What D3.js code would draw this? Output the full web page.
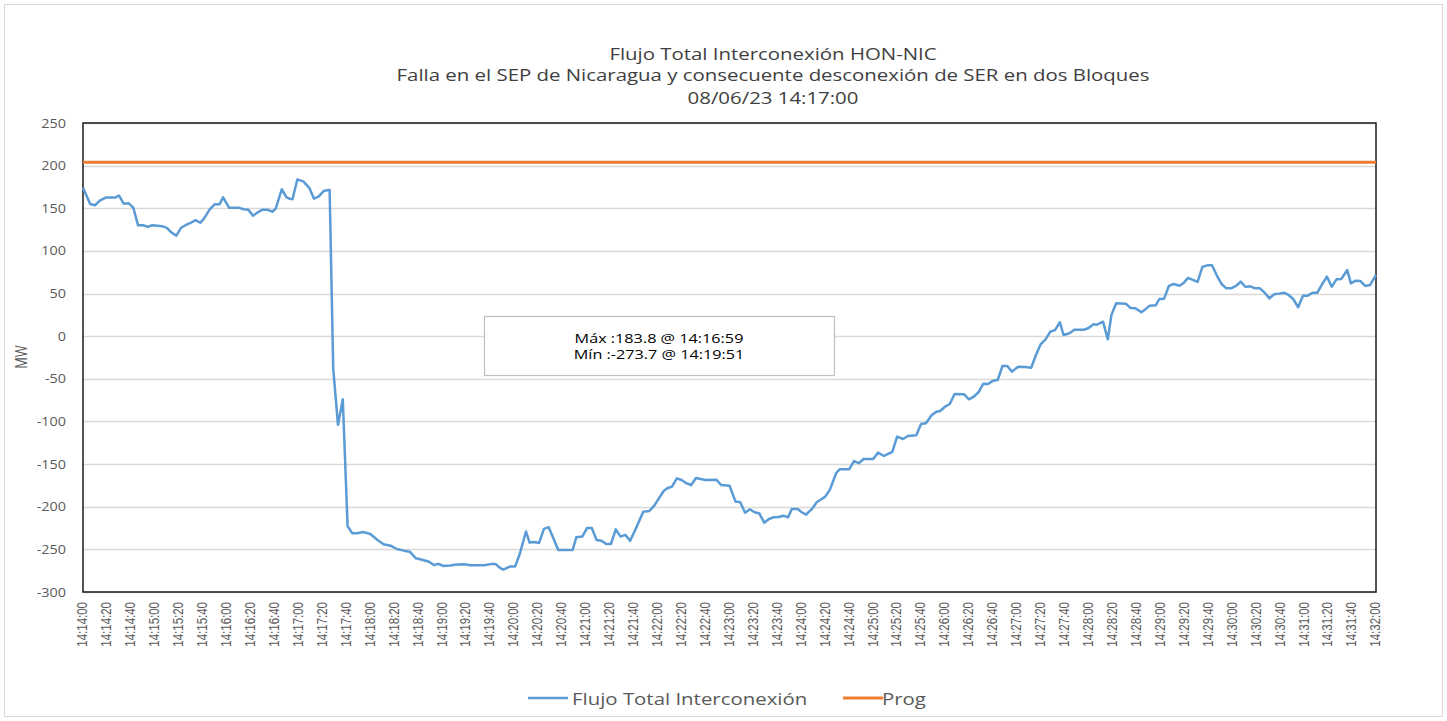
<!DOCTYPE html>
<html>
<head>
<meta charset="utf-8">
<script src="https://cdn.jsdelivr.net/npm/d3@7"></script>
<style>
  html, body { margin: 0; padding: 0; background: #fff; }
  svg { display: block; }
</style>
</head>
<body>
<div id="chart"></div>
<script>
// ---- Data (seconds after 14:14:00, MW) ----
const flowSecs = [0,6,10,14,19,27,30,34,38,42,46,50,54,58,66,70,74,78,82,86,90,94,98,101,106,110,114,117,122,130,134,138,142,146,150,154,158,161,166,170,173,175,179,184,189,193,197,201,205,206,209,213,217,221,225,229,234,240,246,251,257,262,268,273,278,284,289,293,297,301,307,310,318,324,335,342,345,348,351,357,361,365,370,373,377,381,385,389,397,409,412,417,421,425,429,433,437,441,445,449,453,457,461,468,473,477,485,488,492,496,500,504,508,512,516,520,529,533,540,545,549,553,557,561,565,569,573,577,581,585,589,592,597,600,604,609,613,617,620,624,629,632,640,644,648,652,660,664,669,676,680,685,689,696,700,704,709,713,716,720,724,728,736,740,744,748,752,756,760,764,768,772,776,781,787,792,796,800,804,808,812,816,819,824,828,836,840,844,847,852,856,859,863,871,875,879,884,888,891,896,899,903,907,911,916,919,923,927,931,935,939,943,947,951,955,959,963,967,971,975,979,983,987,991,995,999,1003,1007,1011,1015,1019,1023,1027,1031,1035,1039,1043,1047,1051,1056,1059,1063,1067,1071,1075,1080];
const flowMW = [174,155,153.5,159,162.5,162.5,165,155.4,156,150.7,130,130,128.4,130,129,127,121.4,117.9,127.2,130.4,133,136,133,137.8,149,154.6,154.6,162.8,150.7,150.7,148.8,148.4,141.3,145.3,148.4,148.4,146,149.5,172.3,162.9,161,160.5,183.8,181.6,174,161.3,164,170.3,171.4,171.4,-38,-104,-74,-223,-231,-231,-229.6,-232,-239,-244,-245.7,-249.6,-251.5,-252.7,-260.5,-262.5,-264.5,-268.3,-267,-269.5,-269,-268,-267.5,-268.7,-268.7,-267,-267.5,-271.5,-273.7,-270,-270,-254.6,-229,-242,-241.4,-242.5,-226,-224,-250.7,-250.7,-235.9,-235,-225,-225,-239,-239.8,-243.7,-243.7,-226.5,-235,-233,-240,-228,-205.8,-205,-199,-181.5,-178.4,-176.5,-166.7,-168.6,-172.5,-174.5,-166.3,-167.5,-168.6,-168.3,-174.5,-175.3,-194,-194.8,-207,-203,-206.5,-208,-218.7,-214.4,-212.4,-212,-210.5,-212.4,-202.7,-202.7,-206.2,-209.3,-202.3,-194.4,-190.9,-188.2,-179.6,-160.8,-156,-156,-146.4,-149,-144,-144,-136.6,-140.5,-135.8,-117.8,-120.6,-117,-116.3,-103,-102.2,-92.4,-88.5,-87.7,-82.7,-79.5,-67.8,-68.2,-74,-71,-65.8,-55.7,-56,-52.2,-51.4,-35,-35,-41.6,-35.8,-36.1,-37,-22,-9.2,-3.7,5.3,7.3,16.3,1.4,3.4,7.6,7.6,9.6,14,13.5,17,-3.7,24.9,38.6,38.1,33,32.7,28,32.3,35.8,36.2,43.6,44,58.9,61.2,59.2,62,68.3,66,63.6,81.2,83.1,83.1,71.4,61.2,56.1,56.1,58.9,63.9,57.7,58.5,56.1,56.1,51,44.4,49.1,49.9,51,48.3,43.3,33.9,47.5,47.5,51,51,60.9,69.8,58,66.7,67.1,77.6,62,65.1,64.7,58.9,60,72];
const progSecs = [0, 1080];
const progMW = [204, 204];

const xTickSecs = d3.range(0, 1081, 20);
const xTickLabels = ["14:14:00","14:14:20","14:14:40","14:15:00","14:15:20","14:15:40","14:16:00","14:16:20","14:16:40","14:17:00","14:17:20","14:17:40","14:18:00","14:18:20","14:18:40","14:19:00","14:19:20","14:19:40","14:20:00","14:20:20","14:20:40","14:21:00","14:21:20","14:21:40","14:22:00","14:22:20","14:22:40","14:23:00","14:23:20","14:23:40","14:24:00","14:24:20","14:24:40","14:25:00","14:25:20","14:25:40","14:26:00","14:26:20","14:26:40","14:27:00","14:27:20","14:27:40","14:28:00","14:28:20","14:28:40","14:29:00","14:29:20","14:29:40","14:30:00","14:30:20","14:30:40","14:31:00","14:31:20","14:31:40","14:32:00"];
const yTicks = [250,200,150,100,50,0,-50,-100,-150,-200,-250,-300];

const titleLines = ["Flujo Total Interconexión HON-NIC",
  "Falla en el SEP de Nicaragua y consecuente desconexión de SER en dos Bloques",
  "08/06/23 14:17:00"];
const noteLines = ["Máx :183.8 @ 14:16:59", "Mín :-273.7 @ 14:19:51"];
const seriesNames = ["Flujo Total Interconexión", "Prog"];
const seriesColors = ["#5B9BD5", "#ED7D31"];

// ---- Layout ----
const W = 1447, H = 721;
const plot = {left: 83, right: 1376, top: 123, bottom: 592};
const font = "'Open Sans', sans-serif";
const grey = "#595959";
const SX = 1.2; // horizontal stretch of the text in the original picture

const svg = d3.select("#chart").append("svg").attr("width", W).attr("height", H);
svg.append("rect").attr("x", 4.5).attr("y", 4.5).attr("width", W - 9).attr("height", H - 9)
  .attr("fill", "#fff").attr("stroke", "#d9d9d9");

const x = d3.scaleLinear().domain([0, 1080]).range([plot.left, plot.right]);
const y = d3.scaleLinear().domain([-300, 250]).range([plot.bottom, plot.top]);

function place(sel, px, py, rot) {
  return sel.attr("x", 0).attr("y", 0)
    .attr("transform", (d, i) => {
      const X = typeof px === "function" ? px(d, i) : px;
      const Y = typeof py === "function" ? py(d, i) : py;
      return `translate(${X},${Y}) scale(${SX},1)` + (rot ? ` rotate(${rot})` : "");
    });
}

// gridlines
svg.append("g").selectAll("line").data(yTicks).join("line")
  .attr("x1", plot.left).attr("x2", plot.right)
  .attr("y1", d => Math.round(y(d)) + 0.5).attr("y2", d => Math.round(y(d)) + 0.5)
  .attr("stroke", "#d9d9d9").attr("stroke-width", 1.3);

// y axis labels
const yAxis = d3.axisLeft(y).tickValues(yTicks).tickFormat(d => String(d)).tickSize(0).tickPadding(0);
const gy = svg.append("g").call(yAxis);
gy.select(".domain").remove();
gy.selectAll(".tick").attr("transform", null);
place(gy.selectAll("text"), 66, d => y(d), 0)
  .attr("dy", null).attr("dominant-baseline", "central").attr("text-anchor", "end")
  .attr("font-family", font).attr("font-size", 12).attr("fill", grey);

// x axis labels
const xAxis = d3.axisBottom(x).tickValues(xTickSecs).tickFormat((d, i) => xTickLabels[i]).tickSize(0);
const gx = svg.append("g").call(xAxis);
gx.select(".domain").remove();
gx.selectAll(".tick").attr("transform", null);
place(gx.selectAll("text"), d => x(d), plot.bottom + 10, -90)
  .attr("dy", null).attr("text-anchor", "end").attr("dominant-baseline", "central")
  .attr("font-family", "'Liberation Sans', Arial, sans-serif").attr("font-size", 11.5).attr("fill", grey);

// plot frame
svg.append("rect").attr("x", plot.left).attr("y", plot.top)
  .attr("width", plot.right - plot.left).attr("height", plot.bottom - plot.top)
  .attr("fill", "none").attr("stroke", "#1a1a1a").attr("stroke-width", 1.5);

// lines
const line = d3.line().x(d => x(d[0])).y(d => y(d[1]));
svg.append("path").datum(progSecs.map((s, i) => [s, progMW[i]]))
  .attr("d", line).attr("fill", "none").attr("stroke", seriesColors[1]).attr("stroke-width", 3);
svg.append("path").datum(flowSecs.map((s, i) => [s, flowMW[i]]))
  .attr("d", line).attr("fill", "none").attr("stroke", seriesColors[0])
  .attr("stroke-width", 2.5).attr("stroke-linejoin", "round");

// note box
svg.append("rect").attr("x", 484.5).attr("y", 316.5).attr("width", 350).attr("height", 59)
  .attr("fill", "#fff").attr("stroke", "#bfbfbf").attr("stroke-width", 1.2);
place(svg.append("g").selectAll("text").data(noteLines).join("text"), 659, (d, i) => 338 + i * 16, 0)
  .attr("text-anchor", "middle").attr("dominant-baseline", "central")
  .attr("font-family", font).attr("font-size", 13.5).attr("fill", "#000").text(d => d);

// title
place(svg.append("g").selectAll("text").data(titleLines).join("text"), 773, (d, i) => [53, 74, 97][i], 0)
  .attr("text-anchor", "middle").attr("dominant-baseline", "central")
  .attr("font-family", font).attr("font-size", 17).attr("fill", "#404040").text(d => d);

// y axis title
place(svg.append("text"), 21, 357, -90)
  .attr("text-anchor", "middle").attr("dominant-baseline", "central")
  .attr("font-family", font).attr("font-size", 13).attr("fill", grey).text("MW");

// legend
const legX = [528, 843], legTextX = [572, 882];
const lg = svg.append("g");
seriesNames.forEach((n, i) => {
  lg.append("line").attr("x1", legX[i]).attr("x2", legX[i] + 40).attr("y1", 698).attr("y2", 698)
    .attr("stroke", seriesColors[i]).attr("stroke-width", i ? 3 : 2.5);
  place(lg.append("text"), legTextX[i], 698, 0).attr("dominant-baseline", "central")
    .attr("font-family", font).attr("font-size", 17).attr("fill", grey).text(n);
});
</script>
</body>
</html>
